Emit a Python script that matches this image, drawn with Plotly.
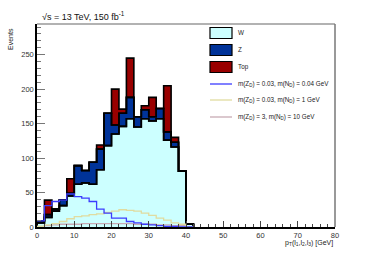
import plotly.graph_objects as go

# bin edges 0..42 step 2
edges = list(range(0, 44, 2))
W = [6, 14, 23, 31, 45, 62, 64, 62, 83, 118, 135, 146, 157, 145, 157, 154, 157, 126, 116, 81, 4]
Z = [3, 4, 3, 8, 4, 27, 18, 32, 30, 47, 13, 19, 31, 15, 13, 6, 15, 12, 7, 0, 0]
Top = [0, 21, 0, 0, 21, 0, 0, 0, 6, 0, 52, 6, 57, 0, 6, 28, 0, 67, 7, 0, 0]
sig1 = [9, 31, 37, 39, 48, 44, 42, 37, 26, 20, 13, 13, 8, 6, 4, 3, 2, 1, 1, 0, 0]
sig2 = [1, 3, 5, 8, 12, 15, 16, 18, 19, 21, 23, 25, 24, 23, 20, 17, 13, 10, 6, 4, 0]
sig3 = [1, 2, 3, 4, 4, 4, 5, 5, 5, 5, 5, 5, 5, 4, 4, 4, 3, 3, 2, 2, 0]

legend_labels = ["W", "Z", "Top",
                 "m(Z<sub>D</sub>) = 0.03, m(N<sub>D</sub>) = 0.04 GeV",
                 "m(Z<sub>D</sub>) = 0.03, m(N<sub>D</sub>) = 1 GeV",
                 "m(Z<sub>D</sub>) = 3, m(N<sub>D</sub>) = 10 GeV"]

C_W = "#ccffff"
C_Z = "#003399"
C_T = "#990000"
C_S1 = "#3c3cff"
C_S2 = "#e0dca0"
C_S3 = "#c8aab4"


def step(vals):
    xs = [edges[0]] + edges + [edges[-1]]
    ys = [0] + list(vals) + [vals[-1], 0]
    return xs, ys


cum1 = W
cum2 = [a + b for a, b in zip(W, Z)]
cum3 = [a + b + c for a, b, c in zip(W, Z, Top)]

fig = go.Figure()
x1, y1 = step(cum1)
x2, y2 = step(cum2)
x3, y3 = step(cum3)
fig.add_trace(go.Scatter(x=x1, y=y1, mode="lines", line=dict(shape="hv", color="black", width=1.6),
                         fill="tozeroy", fillcolor=C_W, showlegend=False, hoverinfo="skip"))
fig.add_trace(go.Scatter(x=x2, y=y2, mode="lines", line=dict(shape="hv", color="black", width=1.6),
                         fill="tonexty", fillcolor=C_Z, showlegend=False, hoverinfo="skip"))
fig.add_trace(go.Scatter(x=x3, y=y3, mode="lines", line=dict(shape="hv", color="black", width=1.6),
                         fill="tonexty", fillcolor=C_T, showlegend=False, hoverinfo="skip"))
for xs, ys in [(x1, y1), (x2, y2)]:
    fig.add_trace(go.Scatter(x=xs, y=ys, mode="lines", line=dict(shape="hv", color="black", width=1.6),
                             showlegend=False, hoverinfo="skip"))
for vals, col in [(sig3, C_S3), (sig2, C_S2), (sig1, C_S1)]:
    xs = edges
    ys = list(vals) + [vals[-1]]
    fig.add_trace(go.Scatter(x=xs, y=ys, mode="lines", line=dict(shape="hv", color=col, width=1.3),
                             showlegend=False, hoverinfo="skip"))

L, R, T, B = 37, 335, 24, 227
W_PX, H_PX = R - L, B - T


def px(xp):
    return (xp - L) / W_PX


def py(yp):
    return (B - yp) / H_PX


shapes = []
annotations = []
shapes.append(dict(type="line", xref="paper", yref="paper", x0=0, x1=1, y0=1, y1=1,
                   line=dict(color="#999999", width=1.5)))
shapes.append(dict(type="line", xref="paper", yref="paper", x0=1, x1=1, y0=0, y1=1,
                   line=dict(color="#777777", width=1.5)))

box_y = [33, 50, 67]
fills = [C_W, C_Z, C_T]
for yy, fc in zip(box_y, fills):
    shapes.append(dict(type="rect", xref="paper", yref="paper", x0=px(210), x1=px(232),
                       y0=py(yy + 5.5), y1=py(yy - 5.5), fillcolor=fc,
                       line=dict(color="black", width=1.2)))
line_y = [84, 100, 117]
for yy, lc in zip(line_y, [C_S1, C_S2, C_S3]):
    shapes.append(dict(type="line", xref="paper", yref="paper", x0=px(210), x1=px(232),
                       y0=py(yy), y1=py(yy), line=dict(color=lc, width=1.3)))
for yy, lab in zip(box_y + line_y, legend_labels):
    annotations.append(dict(x=px(236), y=py(yy), xref="paper", yref="paper", text=lab,
                            showarrow=False, xanchor="left", yanchor="middle",
                            font=dict(size=6.3, color="#222222")))

annotations.append(dict(x=px(40), y=py(16), xref="paper", yref="paper",
                        text="√s = 13 TeV, 150 fb<sup>-1</sup>", showarrow=False,
                        xanchor="left", yanchor="middle", font=dict(size=9, color="#111111")))
annotations.append(dict(x=px(10), y=py(26), xref="paper", yref="paper", text="Events",
                        showarrow=False, textangle=-90, xanchor="center", yanchor="top",
                        font=dict(size=7, color="#222222")))
annotations.append(dict(x=1.0, y=py(243), xref="paper", yref="paper",
                        text="p<sub>T</sub>(l<sub>1</sub>,l<sub>2</sub>,l<sub>3</sub>) [GeV]",
                        showarrow=False, xanchor="right", yanchor="middle",
                        font=dict(size=7, color="#222222")))

fig.update_layout(
    width=374, height=253,
    margin=dict(l=L, r=374 - R, t=T, b=253 - B),
    paper_bgcolor="white", plot_bgcolor="white",
    font=dict(family="Liberation Sans, Arial, sans-serif", size=7, color="#333333"),
    shapes=shapes, annotations=annotations, showlegend=False,
    xaxis=dict(range=[0, 80], dtick=10, ticks="inside", ticklen=6, tickcolor="#444444",
               showgrid=False, zeroline=False, showline=True, linecolor="black", linewidth=1.5,
               tickfont=dict(size=7.5, color="#333333"), automargin=False,
               minor=dict(dtick=2, ticks="inside", ticklen=3, tickcolor="#444444")),
    yaxis=dict(range=[0, 294.5], dtick=50, ticks="inside", ticklen=8, tickcolor="#777777",
               showgrid=False, zeroline=False, showline=True, linecolor="black", linewidth=1.5,
               tickfont=dict(size=7.5, color="#333333"), automargin=False,
               minor=dict(dtick=10, ticks="inside", ticklen=4, tickcolor="#777777")),
)

fig.write_html("out.html", config={"displayModeBar": False},
               post_script="document.body.style.margin='0';document.body.style.padding='0';")
